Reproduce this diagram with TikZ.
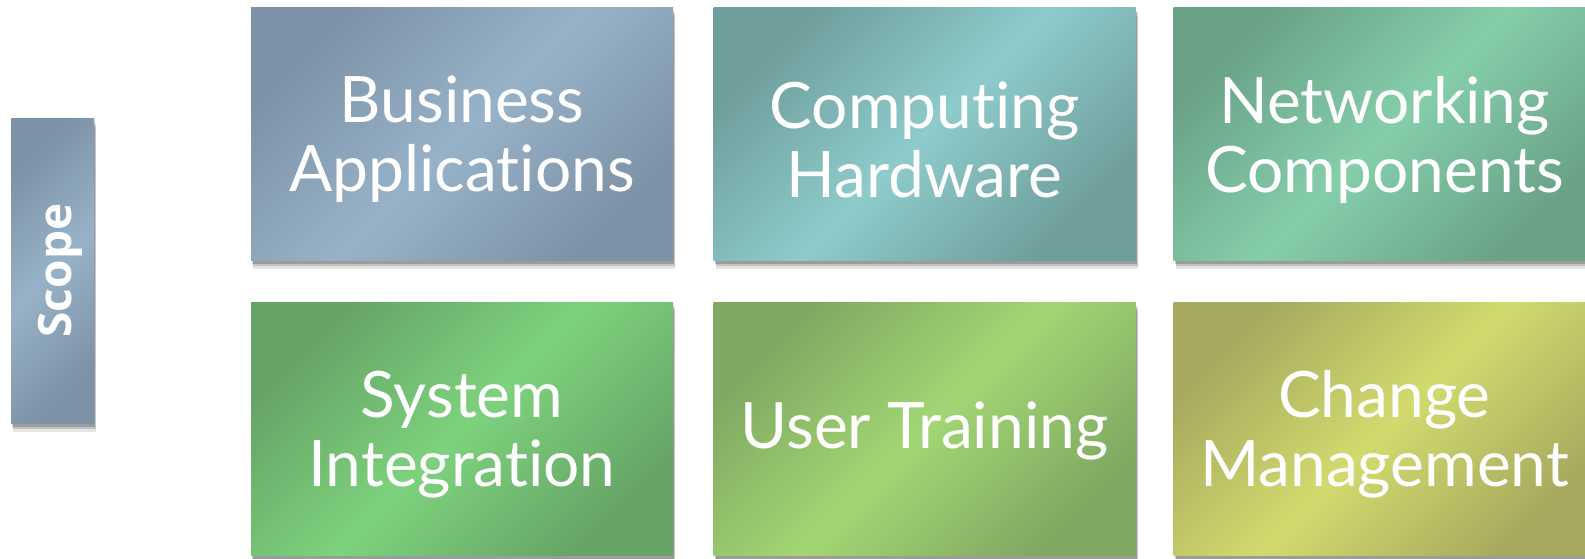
\documentclass[tikz,border=0pt]{standalone}
\usepackage{fontspec}
\setmainfont{Lato}[Ligatures={NoCommon,NoContextual}]
\newfontfamily\scopefont{Open Sans}
\usetikzlibrary{shadows}
\definecolor{bA}{HTML}{7D92A7}\definecolor{bB}{HTML}{97B2C8}
\definecolor{cA}{HTML}{6E9E9C}\definecolor{cB}{HTML}{8ECBCB}
\definecolor{nA}{HTML}{6AA287}\definecolor{nB}{HTML}{85CEAA}
\definecolor{sA}{HTML}{66A466}\definecolor{sB}{HTML}{7DD27D}
\definecolor{uA}{HTML}{80A862}\definecolor{uB}{HTML}{A2D673}
\definecolor{mA}{HTML}{A7AA5E}\definecolor{mB}{HTML}{D2DA6E}
\tikzset{
  grad/.style 2 args={left color=#1, right color=#1, middle color=#2, shading angle=45},
  shad/.style={general shadow={shadow xshift=1.2pt, shadow yshift=-4.5pt, fill=black, opacity=0.10},
               general shadow={shadow xshift=1pt, shadow yshift=-3.2pt, fill=black, opacity=0.15},
               general shadow={shadow xshift=0.6pt, shadow yshift=-2pt, fill=black, opacity=0.2}},
  tile/.style={rectangle, draw=none, shad, minimum width=211pt, minimum height=126.5pt, inner sep=0pt},
  lbl/.style={align=center, text=white, inner sep=0pt, font=\fontsize{32}{34.5}\selectfont},
  scopebox/.style={rectangle, draw=none, shad, minimum width=41.5pt, minimum height=152.5pt, inner sep=0pt},
  scopelbl/.style={text=white, inner sep=0pt, font=\scopefont\bfseries\fontsize{23}{25}\selectfont}
}
\begin{document}
\begin{tikzpicture}[x=0.5pt,y=-0.5pt]
\useasboundingbox (0,0) rectangle (1585,558);
\node[scopebox, grad={bA}{bB}] (scope) at (52.5,270.5) {};
\node[scopelbl] (scope-t) at ([xshift=4pt]scope.center) {\rotatebox{90}{Scope}};
\node[tile, grad={bA}{bB}] (ba) at (462,133.5) {};
\node[tile, grad={cA}{cB}] (ch) at (924.5,133.5) {};
\node[tile, grad={nA}{nB}] (nc) at (1384.5,133.5) {};
\node[tile, grad={sA}{sB}] (si) at (462,428.5) {};
\node[tile, grad={uA}{uB}] (ut) at (924.5,428.5) {};
\node[tile, grad={mA}{mB}] (cm) at (1384.5,428.5) {};
\node[lbl] (ba-t) at ([yshift=-3pt]ba.center) {Business\\Applications};
\node[lbl] (ch-t) at ([yshift=-3pt]ch.center) {Computing\\Hardware};
\node[lbl] (nc-t) at ([yshift=-3pt]nc.center) {Networking\\Components};
\node[lbl] (si-t) at ([yshift=-3pt]si.center) {System\\Integration};
\node[lbl] (ut-t) at ([yshift=-1pt]ut.center) {User Training};
\node[lbl] (cm-t) at ([yshift=-3pt]cm.center) {Change\\Management};
\end{tikzpicture}
\end{document}
